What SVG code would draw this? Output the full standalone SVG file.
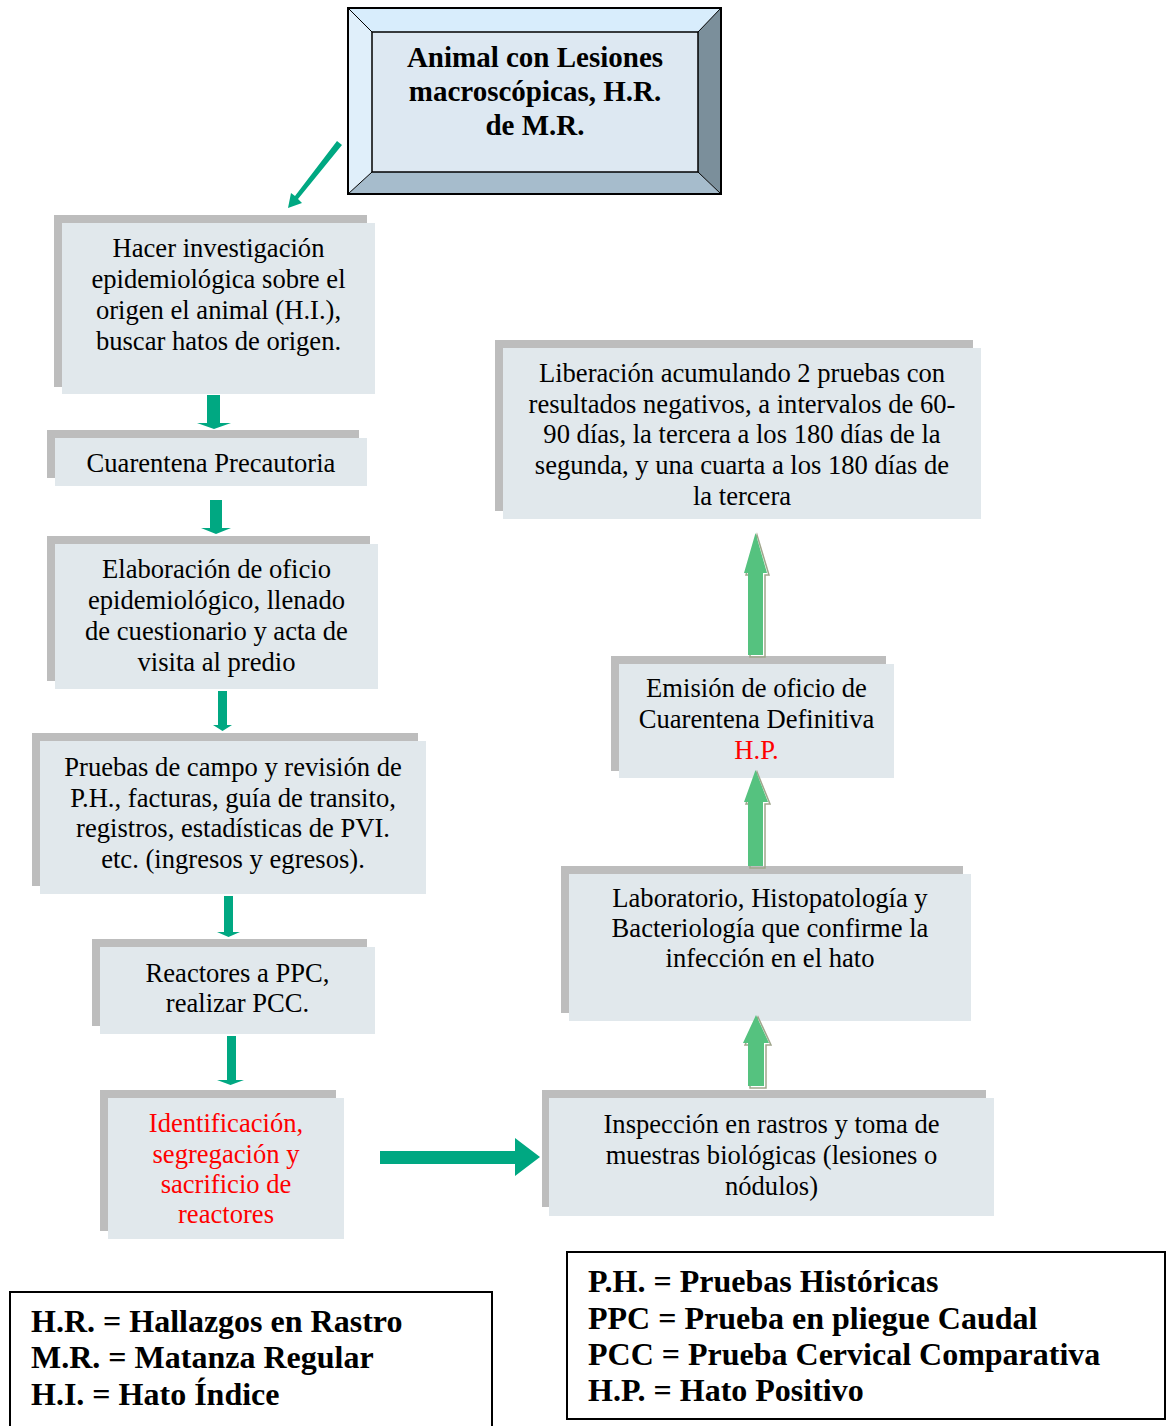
<svg xmlns="http://www.w3.org/2000/svg" width="1167" height="1426" viewBox="0 0 1167 1426">
  <style>
    .shadow { fill: #bdbdbd; }
    .box { fill: #e1e8ec; }
    .txt { font-family: "Liberation Serif", "Times New Roman", serif; font-size: 26.6px; fill: #000; text-anchor: middle; }
    .red { fill: #ff0000; }
    .title { font-family: "Liberation Serif", "Times New Roman", serif; font-size: 29px; font-weight: bold; fill: #000; text-anchor: middle; }
    .legend { font-family: "Liberation Serif", "Times New Roman", serif; font-size: 32px; font-weight: bold; fill: #000; }
    .down { fill: #00a882; }
    .up { fill: #55c27f; }
    .upedge { fill: none; stroke: #a0a68c; stroke-width: 1.5; }
  </style>

  <rect x="0" y="0" width="1167" height="1426" fill="#ffffff"/>

  <!-- Title node: bevelled frame -->
  <g id="node-title">
    <polygon points="348,8 721,8 698,32 372,32" fill="#d8edfc"/>
    <polygon points="348,8 372,32 372,172 348,194" fill="#e0effa"/>
    <polygon points="721,8 721,194 698,172 698,32" fill="#7b8f9b"/>
    <polygon points="348,194 372,172 698,172 721,194" fill="#a6bccc"/>
    <rect x="372" y="32" width="326" height="140" fill="#dde8f2" stroke="#000" stroke-width="1.5"/>
    <rect x="348" y="8" width="373" height="186" fill="none" stroke="#000" stroke-width="2"/>
    <line x1="348" y1="8" x2="372" y2="32" stroke="#000" stroke-width="1"/>
    <line x1="721" y1="8" x2="698" y2="32" stroke="#000" stroke-width="1"/>
    <line x1="348" y1="194" x2="372" y2="172" stroke="#000" stroke-width="1"/>
    <line x1="721" y1="194" x2="698" y2="172" stroke="#000" stroke-width="1"/>
    <text class="title" x="535" y="67">Animal con Lesiones</text>
    <text class="title" x="535" y="101">macroscópicas, H.R.</text>
    <text class="title" x="535" y="135">de M.R.</text>
  </g>

  <g id="node-investigacion">
    <rect class="shadow" x="54" y="215" width="313" height="172"/>
    <rect class="box" x="62" y="223" width="313" height="171"/>
    <text class="txt" x="218.5" y="257">Hacer investigación</text>
    <text class="txt" x="218.5" y="288">epidemiológica sobre el</text>
    <text class="txt" x="218.5" y="319">origen el animal (H.I.),</text>
    <text class="txt" x="218.5" y="350">buscar hatos de origen.</text>
  </g>

  <g id="node-cuarentena-precautoria">
    <rect class="shadow" x="47" y="430" width="312" height="48"/>
    <rect class="box" x="55" y="438" width="312" height="48"/>
    <text class="txt" x="211" y="472">Cuarentena Precautoria</text>
  </g>

  <g id="node-elaboracion">
    <rect class="shadow" x="47" y="536" width="323" height="145"/>
    <rect class="box" x="55" y="544" width="323" height="145"/>
    <text class="txt" x="216.5" y="578">Elaboración de oficio</text>
    <text class="txt" x="216.5" y="609">epidemiológico, llenado</text>
    <text class="txt" x="216.5" y="640">de cuestionario y acta de</text>
    <text class="txt" x="216.5" y="671">visita al predio</text>
  </g>

  <g id="node-pruebas">
    <rect class="shadow" x="32" y="733" width="386" height="153"/>
    <rect class="box" x="40" y="741" width="386" height="153"/>
    <text class="txt" x="233" y="776">Pruebas de campo y revisión de</text>
    <text class="txt" x="233" y="806.5">P.H., facturas, guía de transito,</text>
    <text class="txt" x="233" y="837">registros, estadísticas de PVI.</text>
    <text class="txt" x="233" y="867.5">etc. (ingresos y egresos).</text>
  </g>

  <g id="node-reactores">
    <rect class="shadow" x="92" y="939" width="275" height="87"/>
    <rect class="box" x="100" y="947" width="275" height="87"/>
    <text class="txt" x="237.5" y="982">Reactores a PPC,</text>
    <text class="txt" x="237.5" y="1012">realizar PCC.</text>
  </g>

  <g id="node-identificacion">
    <rect class="shadow" x="100" y="1090" width="236" height="141"/>
    <rect class="box" x="108" y="1098" width="236" height="141"/>
    <text class="txt red" x="226" y="1132">Identificación,</text>
    <text class="txt red" x="226" y="1163">segregación y</text>
    <text class="txt red" x="226" y="1193">sacrificio de</text>
    <text class="txt red" x="226" y="1223">reactores</text>
  </g>

  <g id="node-inspeccion">
    <rect class="shadow" x="542" y="1090" width="444" height="117"/>
    <rect class="box" x="549" y="1098" width="445" height="118"/>
    <text class="txt" x="771.5" y="1133">Inspección en rastros y toma de</text>
    <text class="txt" x="771.5" y="1164">muestras biológicas (lesiones o</text>
    <text class="txt" x="771.5" y="1195">nódulos)</text>
  </g>

  <g id="node-laboratorio">
    <rect class="shadow" x="561" y="866" width="402" height="147"/>
    <rect class="box" x="569" y="874" width="402" height="147"/>
    <text class="txt" x="770" y="907">Laboratorio, Histopatología y</text>
    <text class="txt" x="770" y="937">Bacteriología que confirme la</text>
    <text class="txt" x="770" y="967">infección en el hato</text>
  </g>

  <g id="node-emision">
    <rect class="shadow" x="611" y="656" width="275" height="115"/>
    <rect class="box" x="619" y="664" width="275" height="114"/>
    <text class="txt" x="756.5" y="697">Emisión de oficio de</text>
    <text class="txt" x="756.5" y="728">Cuarentena Definitiva</text>
    <text class="txt red" x="756.5" y="759">H.P.</text>
  </g>

  <g id="node-liberacion">
    <rect class="shadow" x="495" y="340" width="478" height="171"/>
    <rect class="box" x="503" y="348" width="478" height="171"/>
    <text class="txt" x="742" y="382">Liberación acumulando 2 pruebas con</text>
    <text class="txt" x="742" y="413">resultados negativos, a intervalos de 60-</text>
    <text class="txt" x="742" y="443">90 días, la tercera a los 180 días de la</text>
    <text class="txt" x="742" y="474">segunda, y una cuarta a los 180 días de</text>
    <text class="txt" x="742" y="505">la tercera</text>
  </g>

  <g id="connectors">
    <!-- diagonal arrow from the title frame -->
    <polygon class="down" points="337,141 342,145 298,199 302,203 288,208 291,193 295,196"/>
    <!-- downward flow on the left column -->
    <polygon class="down" points="207,395 220,395 220,423 231,423 214,429 197,423 207,423"/>
    <polygon class="down" points="210,500 222,500 222,528 231,528 216,534 201,528 210,528"/>
    <polygon class="down" points="218,691 227,691 227,725 232,725 222.5,731 213,725 218,725"/>
    <polygon class="down" points="224,896 233,896 233,932 240,932 228.5,937 217,932 224,932"/>
    <polygon class="down" points="227,1036 236,1036 236,1080 244,1080 230.5,1085 217,1080 227,1080"/>
    <!-- horizontal arrow to the inspection step -->
    <polygon class="down" points="380,1151 515,1151 515,1138 540,1157 515,1176 515,1164 380,1164"/>
    <!-- upward flow on the right column -->
    <polygon class="upedge" points="750,1088 766,1088 766,1045 771,1045 758,1017 745,1045 750,1045"/>
    <polygon class="up" points="748,1086 764,1086 764,1043 769,1043 756,1015 743,1043 748,1043"/>
    <polygon class="upedge" points="750,868 765,868 765,804 770,804 757,772 746,804 750,804"/>
    <polygon class="up" points="748,866 763,866 763,802 768,802 755.5,770 744,802 748,802"/>
    <polygon class="upedge" points="750,657 765,657 765,575 769,575 757,535 746,575 750,575"/>
    <polygon class="up" points="748,655 763,655 763,573 767,573 755.5,533 744,573 748,573"/>
  </g>

  <g id="legend-left">
    <rect x="10" y="1292" width="482" height="150" fill="#fff" stroke="#000" stroke-width="2"/>
    <text class="legend" x="31" y="1332">H.R. = Hallazgos en Rastro</text>
    <text class="legend" x="31" y="1368">M.R. = Matanza Regular</text>
    <text class="legend" x="31" y="1405">H.I. = Hato Índice</text>
  </g>

  <g id="legend-right">
    <rect x="567" y="1252" width="598" height="167" fill="#fff" stroke="#000" stroke-width="2"/>
    <text class="legend" x="588" y="1292">P.H. = Pruebas Históricas</text>
    <text class="legend" x="588" y="1329">PPC = Prueba en pliegue Caudal</text>
    <text class="legend" x="588" y="1365">PCC = Prueba Cervical Comparativa</text>
    <text class="legend" x="588" y="1401">H.P. = Hato Positivo</text>
  </g>
</svg>
